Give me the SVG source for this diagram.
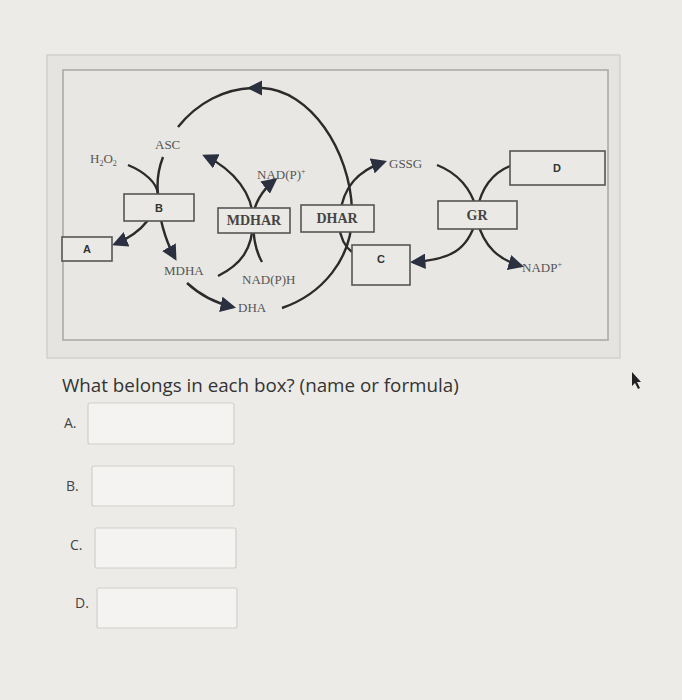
<svg xmlns="http://www.w3.org/2000/svg" width="682" height="700" viewBox="0 0 682 700">
<style>
.bx{fill:#ebe9e5;stroke:#555;stroke-width:1.6}
.ln{fill:none;stroke:#2b2b2b;stroke-width:2.4}
.t{font-family:"Liberation Serif",serif;font-size:13px;fill:#555}
.b{font-family:"Liberation Serif",serif;font-size:14px;font-weight:bold;fill:#444}
.s{font-family:"Liberation Sans",sans-serif;font-size:11px;font-weight:bold;fill:#333}
.q{font-family:"Open Sans",sans-serif;font-size:18.8px;fill:#333}
.f{fill:#f4f3f1;stroke:#d0cfcc;stroke-width:1.2}
</style>
<defs><marker id="ah" viewBox="0 0 10 10" refX="8" refY="5" markerWidth="6.5" markerHeight="6.5" orient="auto"><path d="M0,0L10,5L0,10z" fill="#2b3040"/></marker></defs>
<rect width="682" height="700" fill="#ecebe8"/>
<rect x="47" y="55" width="573" height="303" fill="#e6e4e1" stroke="#c8c6c3"/>
<rect x="63" y="70" width="545" height="270" fill="#e9e7e3" stroke="#a8a6a3" stroke-width="1.5"/>
<g id="connectors">
<path class="ln" d="M282,308 C320,295 354,260 352,210 C350,150 310,90 262,88 L250,88" marker-end="url(#ah)"/>
<path class="ln" d="M252,88 C225,89 198,102 178,127"/>
<path class="ln" d="M128,165 C145,172 157,183 158,194 C158,210 145,232 115,244" marker-end="url(#ah)"/>
<path class="ln" d="M163,157 C158,170 157,185 158,194 C158,215 165,240 175,258" marker-end="url(#ah)"/>
<path class="ln" d="M218,276 C240,265 253,250 253,220 C253,195 235,170 205,156" marker-end="url(#ah)"/>
<path class="ln" d="M262,262 C255,250 253,235 253,220 C253,205 262,190 275,180" marker-end="url(#ah)"/>
<path class="ln" d="M187,283 C200,295 215,303 233,307" marker-end="url(#ah)"/>
<path class="ln" d="M340,215 C343,185 360,170 384,162" marker-end="url(#ah)"/>
<path class="ln" d="M352,252 C344,246 340,235 339,225"/>
<path class="ln" d="M437,165 C455,172 470,185 477,210"/>
<path class="ln" d="M510,166 C495,172 482,185 477,210"/>
<path class="ln" d="M476,220 C468,250 450,260 413,262" marker-end="url(#ah)"/>
<path class="ln" d="M477,220 C484,248 500,260 521,266" marker-end="url(#ah)"/>
</g>
<g id="A"><rect class="bx" x="62" y="237" width="50" height="24"/><text class="s" x="87" y="253" text-anchor="middle">A</text></g>
<g id="B"><rect class="bx" x="124" y="194" width="70" height="27"/><text class="s" x="159" y="212" text-anchor="middle">B</text></g>
<g id="MDHAR"><rect class="bx" x="218" y="208" width="72" height="25"/><text class="b" x="254" y="225" text-anchor="middle">MDHAR</text></g>
<g id="DHAR"><rect class="bx" x="301" y="205" width="73" height="27"/><text class="b" x="337" y="223" text-anchor="middle">DHAR</text></g>
<g id="C"><rect class="bx" x="352" y="245" width="58" height="40"/><text class="s" x="381" y="263" text-anchor="middle">C</text></g>
<g id="GR"><rect class="bx" x="438" y="201" width="79" height="28"/><text class="b" x="477" y="220" text-anchor="middle">GR</text></g>
<g id="D"><rect class="bx" x="510" y="151" width="95" height="34"/><text class="s" x="557" y="172" text-anchor="middle">D</text></g>
<g id="labels">
<text class="t" x="90" y="163">H<tspan font-size="8" dy="3">2</tspan><tspan dy="-3">O</tspan><tspan font-size="8" dy="3">2</tspan></text>
<text class="t" x="155" y="149" font-size="14">ASC</text>
<text class="t" x="257" y="179">NAD(P)<tspan font-size="8" dy="-5">+</tspan></text>
<text class="t" x="389" y="168">GSSG</text>
<text class="t" x="164" y="275">MDHA</text>
<text class="t" x="242" y="284">NAD(P)H</text>
<text class="t" x="238" y="312">DHA</text>
<text class="t" x="522" y="272">NADP<tspan font-size="8" dy="-5">+</tspan></text>
</g>
<text class="q" x="62" y="392">What belongs in each box? (name or formula)</text>
<g id="answers" font-family="Open Sans,sans-serif" font-size="14" fill="#444">
<text x="64" y="428">A.</text><rect class="f" x="88" y="403" width="146" height="41" rx="2"/>
<text x="66" y="491">B.</text><rect class="f" x="92" y="466" width="142" height="40" rx="2"/>
<text x="70" y="550">C.</text><rect class="f" x="95" y="528" width="141" height="40" rx="2"/>
<text x="75" y="608">D.</text><rect class="f" x="97" y="588" width="140" height="40" rx="2"/>
</g>
<path d="M632,372 L632,386 L635,383 L638,389 L640,388 L637,382 L641,382 z" fill="#222"/>
</svg>
